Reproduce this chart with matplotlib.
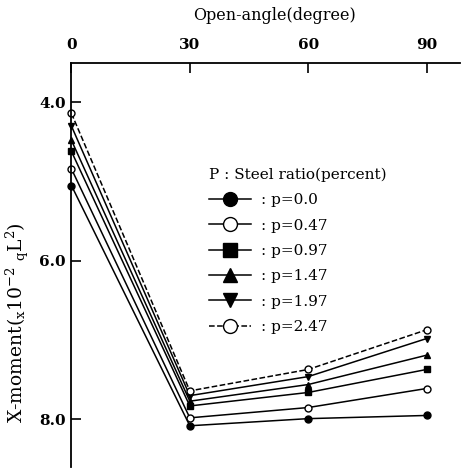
import matplotlib
matplotlib.use('Agg')
import matplotlib.pyplot as plt

plt.rcParams['font.family'] = ['DejaVu Serif']
plt.rcParams['mathtext.fontset'] = 'dejavuserif'

angles = [0, 30, 60, 90]
steel_ratios = ['0.0', '0.47', '0.97', '1.47', '1.97', '2.47']
moment_p000 = [5.05, 8.08, 7.99, 7.95]
moment_p047 = [4.84, 7.98, 7.85, 7.61]
moment_p097 = [4.62, 7.83, 7.66, 7.37]
moment_p147 = [4.48, 7.77, 7.56, 7.19]
moment_p197 = [4.30, 7.70, 7.46, 6.98]
moment_p247 = [4.14, 7.64, 7.37, 6.87]

series = [moment_p000, moment_p047, moment_p097, moment_p147, moment_p197, moment_p247]
markers = ['o', 'o', 's', '^', 'v', 'o']
faces = ['black', 'white', 'black', 'black', 'black', 'white']
styles = ['-', '-', '-', '-', '-', '--']

fig = plt.figure(figsize=(4.61, 4.71), dpi=100)
ax = fig.add_axes([0.155, 0.0085, 0.843, 0.8585])

for vals, p, m, fc, ls in zip(series, steel_ratios, markers, faces, styles):
    ax.plot(angles, vals, color='black', linestyle=ls, linewidth=1.1,
            marker=m, markersize=5, markerfacecolor=fc, markeredgecolor='black',
            markeredgewidth=1.0, clip_on=False, label=': p=' + p)

ax.set_xlim(0, 98.5)
ax.set_ylim(8.6, 3.5)
ax.xaxis.tick_top()
ax.xaxis.set_label_position('top')
ax.set_xticks(angles)
ax.set_yticks([4.0, 6.0, 8.0])
ax.set_yticklabels(['4.0', '6.0', '8.0'])
ax.tick_params(axis='both', direction='in', length=7, width=1.2, labelsize=11, pad=4)
ax.tick_params(axis='x', pad=8)
for lbl in ax.get_yticklabels() + ax.get_xticklabels():
    lbl.set_fontweight('bold')
for side in ['right', 'bottom']:
    ax.spines[side].set_visible(False)
for side in ['left', 'top']:
    ax.spines[side].set_linewidth(1.3)

fig.text(275 / 461, 1 - 16 / 471, 'Open-angle(degree)', ha='center', va='center', fontsize=11.5)
fig.text(17 / 461, 1 - 323 / 471, r'X-moment($_{\rm x}10^{-2}\ _{\rm q}\mathrm{L}^{2}$)',
         ha='center', va='center', rotation=90, fontsize=13.5)

leg = ax.legend(loc='upper left', bbox_to_anchor=(198 / 461, 1 - 157 / 471),
                bbox_transform=fig.transFigure, frameon=False, fontsize=11,
                title='P : Steel ratio(percent)', title_fontsize=11,
                markerscale=2.0, handlelength=2.8, handletextpad=0.6,
                labelspacing=0.74, alignment='left', borderpad=0.2)

fig.savefig('out.png', dpi=100)
